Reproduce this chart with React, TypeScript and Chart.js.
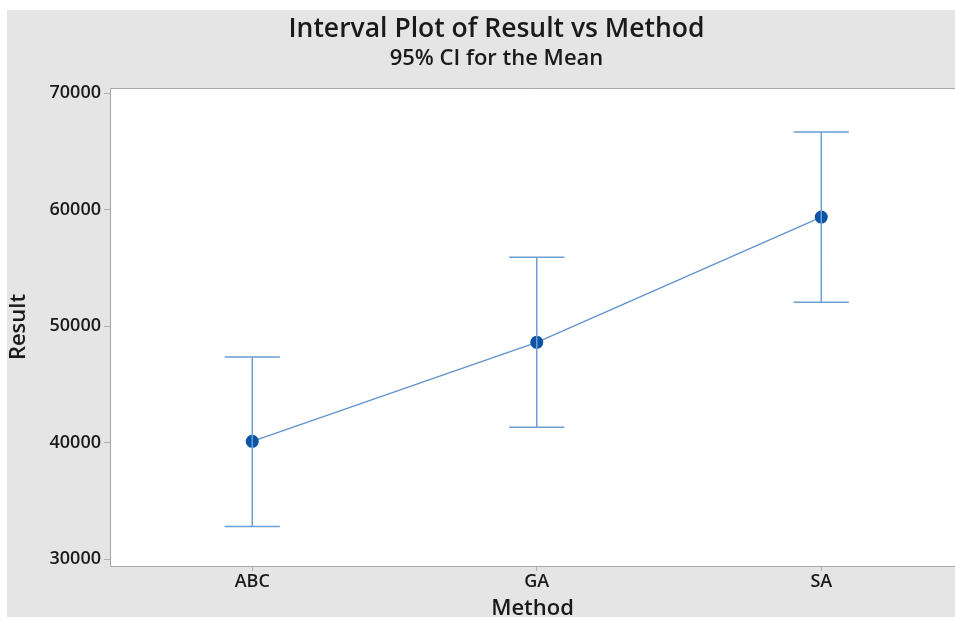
import React, { useEffect, useRef } from "react";
import { Chart, registerables } from "chart.js";

Chart.register(...registerables);

const categories = ["ABC", "GA", "SA"];
const means = [40100, 48600, 59350];
const upper = [47350, 55900, 66650];
const lower = [32800, 41300, 52050];
const yTicks = [30000, 40000, 50000, 60000, 70000];

const FONT = "'Open Sans', 'Noto Sans', sans-serif";
const CAP = 0.097;
const LEFT_PAD = 38;

export default function App() {
  const ref = useRef<HTMLCanvasElement | null>(null);

  useEffect(() => {
    if (!ref.current) return;

    const barPts: any[] = [];
    categories.forEach((_, i) => {
      barPts.push({ x: i, y: lower[i] }, { x: i, y: upper[i] }, { x: i, y: null });
      barPts.push({ x: i - CAP, y: upper[i] }, { x: i + CAP, y: upper[i] }, { x: i, y: null });
      barPts.push({ x: i - CAP, y: lower[i] }, { x: i + CAP, y: lower[i] }, { x: i, y: null });
    });
    const meanPts = categories.map((_, i) => ({ x: i, y: means[i] }));

    const bgPlugin = {
      id: "bg",
      beforeDraw(chart: any) {
        const { ctx, chartArea } = chart;
        ctx.save();
        ctx.fillStyle = "#ffffff";
        ctx.fillRect(0, 0, chart.width, chart.height);
        ctx.fillStyle = "#e5e5e5";
        ctx.fillRect(7, 10, chart.width - 7, chart.height - 10);
        ctx.fillStyle = "#ffffff";
        ctx.fillRect(chartArea.left, chartArea.top, chart.width - chartArea.left, chartArea.bottom - chartArea.top);
        ctx.restore();
      },
      afterDatasetsDraw(chart: any) {
        const { ctx, chartArea } = chart;
        ctx.save();
        ctx.strokeStyle = "#a6a6a6";
        ctx.lineWidth = 1;
        ctx.beginPath();
        ctx.moveTo(chartArea.left + 0.5, chartArea.top + 0.5);
        ctx.lineTo(chart.width, chartArea.top + 0.5);
        ctx.moveTo(chartArea.left + 0.5, chartArea.top + 0.5);
        ctx.lineTo(chartArea.left + 0.5, chartArea.bottom + 0.5);
        ctx.lineTo(chart.width, chartArea.bottom + 0.5);
        ctx.stroke();
        ctx.restore();
      },
    };

    const chart = new Chart(ref.current, {
      type: "line",
      data: {
        datasets: [
          {
            label: "CI",
            data: barPts,
            borderColor: "#6e9fd3",
            borderWidth: 1.5,
            pointRadius: 0,
            spanGaps: false,
            fill: false,
          },
          {
            label: "Mean",
            data: meanPts,
            borderColor: "#5e92cc",
            borderWidth: 1.2,
            pointRadius: 6.5,
            pointBackgroundColor: "#0b53a5",
            pointBorderWidth: 0,
            pointBorderColor: "#0b53a5",
            fill: false,
          },
        ],
      },
      plugins: [bgPlugin],
      options: {
        animation: false,
        responsive: false,
        layout: { padding: { left: LEFT_PAD, top: 0, right: 0, bottom: 0 }, autoPadding: false },
        plugins: {
          legend: { display: false },
          tooltip: { enabled: false },
          title: {
            display: true,
            text: "Interval Plot of Result vs Method",
            color: "#1a1a1a",
            font: { family: FONT, size: 26.5, weight: "600", lineHeight: 1.2 },
            padding: { top: 14, bottom: 0 },
          },
          subtitle: {
            display: true,
            text: "95% CI for the Mean",
            color: "#1a1a1a",
            font: { family: FONT, size: 22, weight: "600", lineHeight: 1.2 },
            padding: { top: 0, bottom: 15.8 },
          },
        },
        scales: {
          x: {
            type: "linear",
            min: -0.5,
            max: 2.47,
            afterBuildTicks: (scale: any) => {
              scale.ticks = categories.map((_, i) => ({ value: i }));
            },
            afterFit: (scale: any) => {
              scale.height = 51;
            },
            ticks: {
              callback: (v: any) => categories[v] ?? "",
              color: "#1a1a1a",
              font: { family: FONT, size: 18, weight: "600" },
              padding: 0,
              maxRotation: 0,
            },
            grid: {
              drawOnChartArea: false,
              drawTicks: true,
              tickLength: 5,
              color: "#b0b0b0",
            },
            border: { display: false },
            title: {
              display: true,
              text: "Method",
              color: "#1a1a1a",
              font: { family: FONT, size: 22, weight: "600", lineHeight: 1 },
              padding: { top: 0, bottom: -3 },
            },
          },
          y: {
            type: "linear",
            min: 29400,
            max: 70430,
            afterBuildTicks: (scale: any) => {
              scale.ticks = yTicks.map((v) => ({ value: v }));
            },
            afterFit: (scale: any) => {
              scale.width = 110 - LEFT_PAD;
            },
            ticks: {
              color: "#1a1a1a",
              font: { family: FONT, size: 18, weight: "600" },
              padding: 3,
              callback: (v: any) => String(v),
            },
            grid: {
              drawOnChartArea: false,
              drawTicks: true,
              tickLength: 6,
              color: "#b0b0b0",
            },
            border: { display: false },
            title: {
              display: true,
              text: "Result",
              color: "#1a1a1a",
              font: { family: FONT, size: 22, weight: "600", lineHeight: 1 },
              padding: { top: 8 - LEFT_PAD, bottom: 0 },
            },
          },
        },
      } as any,
    });

    return () => chart.destroy();
  }, []);

  return (
    <div style={{ position: "fixed", left: 0, top: 0, width: 955, height: 617 }}>
      <canvas ref={ref} width={955} height={617} />
    </div>
  );
}
